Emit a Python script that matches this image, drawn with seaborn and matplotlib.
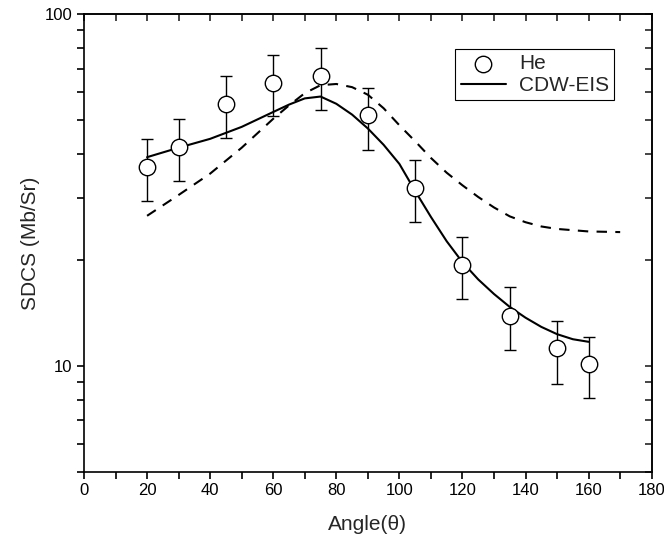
import matplotlib
matplotlib.use("Agg")
import matplotlib.pyplot as plt
import seaborn as sns
import pandas as pd
import numpy as np
from matplotlib.ticker import LogLocator, NullFormatter, FixedLocator, FixedFormatter, MultipleLocator

# Experimental data (He)
exp_angle = [20, 30, 45, 60, 75, 90, 105, 120, 135, 150, 160]
exp_sdcs = [36.7, 41.9, 55.7, 63.9, 66.6, 51.5, 32.1, 19.4, 13.9, 11.2, 10.1]
exp_err_low = [7.3, 8.4, 11.2, 12.6, 13.3, 10.3, 6.5, 3.9, 2.8, 2.3, 2.0]
exp_err_high = [7.4, 8.3, 11.2, 12.7, 13.5, 10.2, 6.5, 3.9, 2.8, 2.2, 2.0]

# CDW-EIS (solid)
cdw_angle = [20, 30, 40, 50, 60, 65, 70, 75, 80, 85, 90, 95, 100, 105, 110, 115,
             120, 125, 130, 135, 140, 145, 150, 155, 160]
cdw_sdcs = [39.2, 41.7, 44.2, 47.8, 52.7, 55.3, 57.6, 58.3, 55.6, 51.8, 47.3, 42.5,
            37.5, 31.4, 26.5, 22.6, 19.7, 17.6, 16.0, 14.7, 13.7, 12.9, 12.3, 11.9, 11.7]

# Second model (dashed)
dash_angle = [20, 30, 40, 50, 60, 65, 70, 75, 80, 85, 90, 95, 100, 105, 110, 115,
              120, 125, 130, 135, 140, 145, 150, 160, 170]
dash_sdcs = [26.7, 30.6, 35.2, 41.7, 50.4, 55.0, 59.6, 62.8, 63.3, 62.0, 59.0, 54.0,
             48.3, 43.5, 39.0, 35.4, 32.6, 30.2, 28.2, 26.6, 25.6, 24.9, 24.5, 24.1, 24.0]

sns.set_style("ticks")
plt.rcParams['font.family'] = ['Liberation Sans', 'DejaVu Sans']

fig = plt.figure(figsize=(6.64, 5.44), dpi=100)
ax = fig.add_axes([0.1265, 0.133, 0.855, 0.841])

cdw = pd.DataFrame({"angle": cdw_angle, "sdcs": cdw_sdcs})
dsh = pd.DataFrame({"angle": dash_angle, "sdcs": dash_sdcs})
exp = pd.DataFrame({"angle": exp_angle, "sdcs": exp_sdcs})

sns.lineplot(data=dsh, x="angle", y="sdcs", ax=ax, color="black", lw=1.5,
             linestyle=(0, (5, 4)), label="_nolegend_")
sns.lineplot(data=cdw, x="angle", y="sdcs", ax=ax, color="black", lw=1.5, label="CDW-EIS")
ax.errorbar(exp_angle, exp_sdcs, yerr=[exp_err_low, exp_err_high], fmt="none",
            ecolor="black", elinewidth=1.0, capsize=4, capthick=1.0, zorder=3)
sns.scatterplot(data=exp, x="angle", y="sdcs", ax=ax, marker="o", s=140,
                facecolor="white", edgecolor="black", linewidth=1.0, zorder=4, label="He")

ax.set_yscale("log")
ax.set_xlim(0, 180)
ax.set_ylim(5, 100)

ax.xaxis.set_major_locator(MultipleLocator(20))
ax.xaxis.set_minor_locator(MultipleLocator(10))
ax.yaxis.set_major_locator(FixedLocator([10, 100]))
ax.yaxis.set_major_formatter(FixedFormatter(["10", "100"]))
ax.yaxis.set_minor_locator(LogLocator(base=10, subs=np.arange(2, 10)))
ax.yaxis.set_minor_formatter(NullFormatter())

for s in ax.spines.values():
    s.set_visible(True)
    s.set_linewidth(1.2)
    s.set_color("black")

ax.tick_params(axis="both", which="both", direction="out", color="black",
               labelsize=12, labelcolor="black")
ax.tick_params(which="major", length=5, width=1.2)
ax.tick_params(which="minor", length=5, width=1.2)
ax.tick_params(axis="x", which="both", top=False)
ax.tick_params(axis="y", which="both", right=False)

# mirrored inward ticks on top and right
axt = ax.secondary_xaxis("top")
axt.xaxis.set_major_locator(MultipleLocator(20))
axt.xaxis.set_minor_locator(MultipleLocator(10))
axt.tick_params(which="both", direction="in", length=5, width=1.2, labeltop=False)
axr = ax.secondary_yaxis("right")
axr.set_yscale("log")
axr.yaxis.set_major_locator(FixedLocator([10, 100]))
axr.yaxis.set_minor_locator(LogLocator(base=10, subs=np.arange(2, 10)))
axr.yaxis.set_minor_formatter(NullFormatter())
axr.tick_params(which="both", direction="in", length=5, width=1.2, labelright=False)
for s in list(axt.spines.values()) + list(axr.spines.values()):
    s.set_linewidth(1.2)

ax.set_xlabel("Angle(θ)", fontsize=15, labelpad=12)
ax.set_ylabel("SDCS (Mb/Sr)", fontsize=15, labelpad=3)

handles, labels = ax.get_legend_handles_labels()
order = [labels.index("He"), labels.index("CDW-EIS")]
leg = ax.legend([handles[i] for i in order], [labels[i] for i in order],
                loc="upper right", bbox_to_anchor=(0.934, 0.924), fontsize=15,
                frameon=True, fancybox=False, edgecolor="black", framealpha=1,
                borderpad=0.25, handlelength=2.2, handletextpad=0.6, labelspacing=0.15,
                borderaxespad=0)
leg.get_frame().set_linewidth(0.8)

fig.savefig("out.png", dpi=100)
